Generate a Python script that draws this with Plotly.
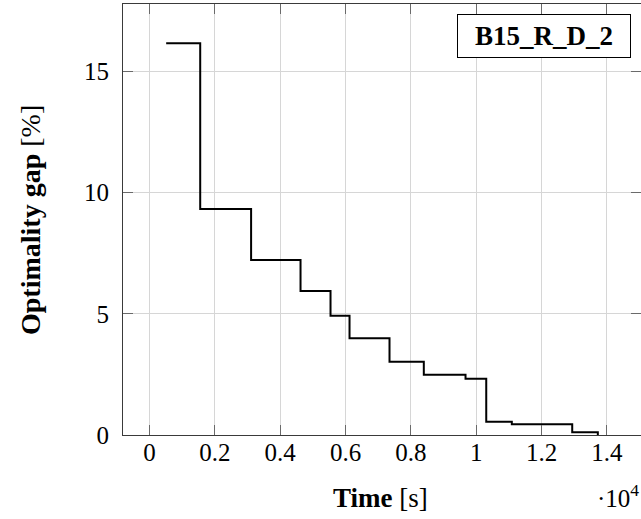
import plotly.graph_objects as go

# Incumbent optimality gap over solver run time (step trace)
time_s = [510, 1552, 3110, 4623, 5541, 6123, 7347, 8397, 9674, 10308, 11091, 12940, 13724]
gap_pct = [16.16, 9.32, 7.22, 5.94, 4.92, 3.99, 3.02, 2.49, 2.32, 0.55, 0.44, 0.11, 0.0]

x_tick_vals = [0, 2000, 4000, 6000, 8000, 10000, 12000, 14000]
x_tick_text = ["0", "0.2", "0.4", "0.6", "0.8", "1", "1.2", "1.4"]
y_tick_vals = [0, 5, 10, 15]
y_tick_text = ["0", "5", "10", "15"]

instance_name = "B15_R_D_2"

FONT = "Liberation Serif"
W, H = 641, 519
L, R, T, B = 123, 0, 4, 84
plot_w = W - L - R
plot_h = H - T - B


def px_to_paper_x(px):
    return (px - L) / plot_w


def px_to_paper_y(py):
    return (H - B - py) / plot_h


fig = go.Figure()
fig.add_trace(go.Scatter(
    x=time_s, y=gap_pct, mode="lines",
    line=dict(shape="hv", color="black", width=2),
    showlegend=False, hoverinfo="skip",
))

axis_common = dict(
    showgrid=True, gridcolor="#d6d6d6", gridwidth=1,
    showline=True, linecolor="#3a3a3a", linewidth=1, mirror="ticks",
    ticks="inside", ticklen=10, tickwidth=1, tickcolor="#6a6a6a",
    tickfont=dict(family=FONT, size=25, color="black"),
    zeroline=False,
)

x_min, x_max = min(time_s), max(time_s)
pad_x = 0.1 * (x_max - x_min)
y_top = max(gap_pct) * 1.1

fig.update_xaxes(
    range=[x_min - pad_x, x_max + pad_x],
    tickmode="array", tickvals=x_tick_vals, ticktext=x_tick_text,
    ticklabelstandoff=-5,
    **axis_common,
)
fig.update_yaxes(
    range=[0, y_top],
    tickmode="array", tickvals=y_tick_vals, ticktext=y_tick_text,
    ticklabelstandoff=8,
    **axis_common,
)

fig.add_annotation(
    text="<b>Time</b> [s]", xref="paper", yref="paper",
    x=px_to_paper_x(380), y=px_to_paper_y(498),
    xanchor="center", yanchor="middle", showarrow=False,
    font=dict(family=FONT, size=27, color="black"),
)
fig.add_annotation(
    text="<b>Optimality gap</b> [%]", xref="paper", yref="paper",
    x=px_to_paper_x(30), y=px_to_paper_y(220), textangle=-90,
    xanchor="center", yanchor="middle", showarrow=False,
    font=dict(family=FONT, size=28, color="black"),
)
fig.add_annotation(
    text="·10<sup>4</sup>", xref="paper", yref="paper",
    x=px_to_paper_x(641), y=px_to_paper_y(496),
    xanchor="right", yanchor="middle", showarrow=False,
    font=dict(family=FONT, size=25, color="black"),
)
fig.add_annotation(
    text="<b>" + instance_name + "</b>", xref="paper", yref="paper",
    x=px_to_paper_x(631), y=px_to_paper_y(14),
    xanchor="right", yanchor="top", showarrow=False,
    width=168, height=38, borderpad=2,
    bgcolor="white", bordercolor="black", borderwidth=1,
    font=dict(family=FONT, size=27, color="black"),
)

fig.update_layout(
    width=W, height=H,
    margin=dict(l=L, r=R, t=T, b=B),
    paper_bgcolor="white", plot_bgcolor="white",
)

fig.write_html("out.html")
